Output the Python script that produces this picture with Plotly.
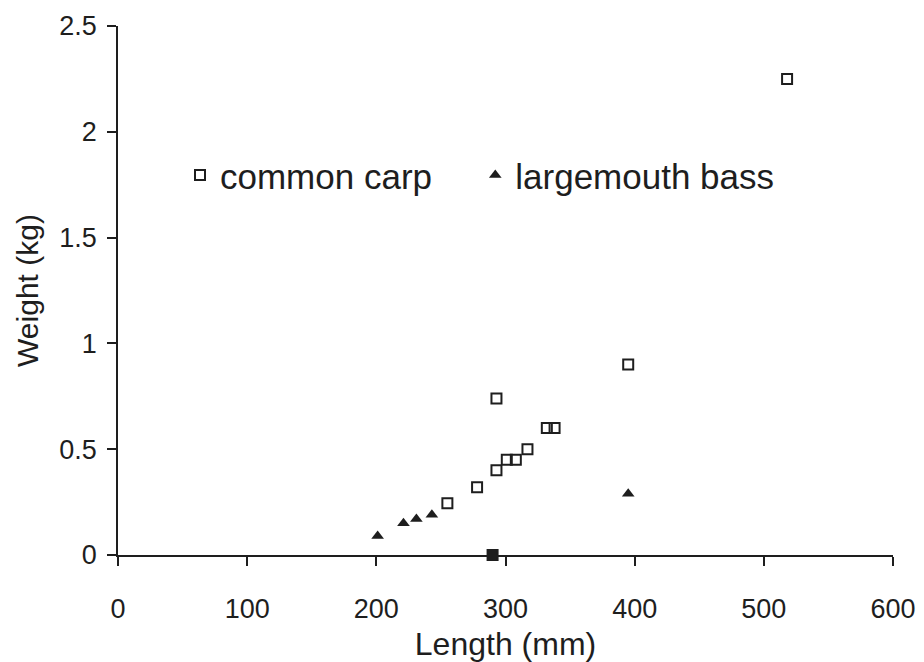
import plotly.graph_objects as go

# Data
carp_length = [518, 395, 293, 332, 338, 317, 301, 308, 293, 278, 255, 290]
carp_weight = [2.25, 0.90, 0.74, 0.60, 0.60, 0.50, 0.45, 0.45, 0.40, 0.32, 0.245, 0.0]
bass_length = [201, 221, 231, 243, 395]
bass_weight = [0.09, 0.15, 0.17, 0.19, 0.29]

x_ticks = [0, 100, 200, 300, 400, 500, 600]
y_ticks = [0, 0.5, 1, 1.5, 2, 2.5]
y_ticklabels = ["0", "0.5", "1", "1.5", "2", "2.5"]

ink = "#1e1e1e"
font_family = "Liberation Sans, Arial, sans-serif"

carp_symbols = ["square-open"] * (len(carp_length) - 1) + ["square"]

fig = go.Figure()
fig.add_trace(go.Scatter(
    x=carp_length, y=carp_weight, mode="markers", name="common carp",
    marker=dict(symbol=carp_symbols, size=10, color=ink, line=dict(width=2, color=ink)),
    cliponaxis=False, legend="legend",
))
fig.add_trace(go.Scatter(
    x=bass_length, y=bass_weight, mode="markers", name="largemouth bass",
    marker=dict(symbol="triangle-up", size=11, color=ink),
    cliponaxis=False, legend="legend2",
))

axis_common = dict(showgrid=False, zeroline=False, linecolor=ink, linewidth=1.5,
                   tickcolor=ink, tickwidth=1.5, ticklen=9,
                   tickfont=dict(family=font_family, size=27, color=ink))

legend_common = dict(yanchor="middle", xanchor="left", y=0.718,
                     font=dict(family=font_family, size=35, color=ink),
                     bgcolor="rgba(0,0,0,0)", itemsizing="trace")

fig.update_layout(
    width=916, height=654,
    margin=dict(l=110, r=31, t=18, b=107, autoexpand=False),
    paper_bgcolor="white", plot_bgcolor="white",
    font=dict(family=font_family, color=ink),
    showlegend=True,
    legend=dict(x=0.08, **legend_common),
    legend2=dict(x=0.461, **legend_common),
    xaxis=dict(range=[0, 600], tickvals=x_ticks, ticks="outside", showline=True,
               ticklabelstandoff=20,
               title=dict(text="Length (mm)", font=dict(family=font_family, size=32, color=ink),
                          standoff=10),
               **axis_common),
    yaxis=dict(range=[0, 2.5], tickvals=y_ticks, ticktext=y_ticklabels, ticks="outside",
               showline=True, ticklabelstandoff=5,
               title=dict(text="Weight (kg)", font=dict(family=font_family, size=30, color=ink),
                          standoff=12),
               **axis_common),
    xaxis2=dict(range=[0, 600], tickvals=x_ticks, ticks="inside", showline=False,
                showticklabels=False, overlaying="x", anchor="y", side="bottom",
                showgrid=False, zeroline=False, tickcolor=ink, tickwidth=1.5, ticklen=9),
    yaxis2=dict(range=[0, 2.5], tickvals=y_ticks, ticks="inside", showline=False,
                showticklabels=False, overlaying="y", anchor="x", side="left",
                showgrid=False, zeroline=False, tickcolor=ink, tickwidth=1.5, ticklen=8),
)

fig.write_html("out.html")
